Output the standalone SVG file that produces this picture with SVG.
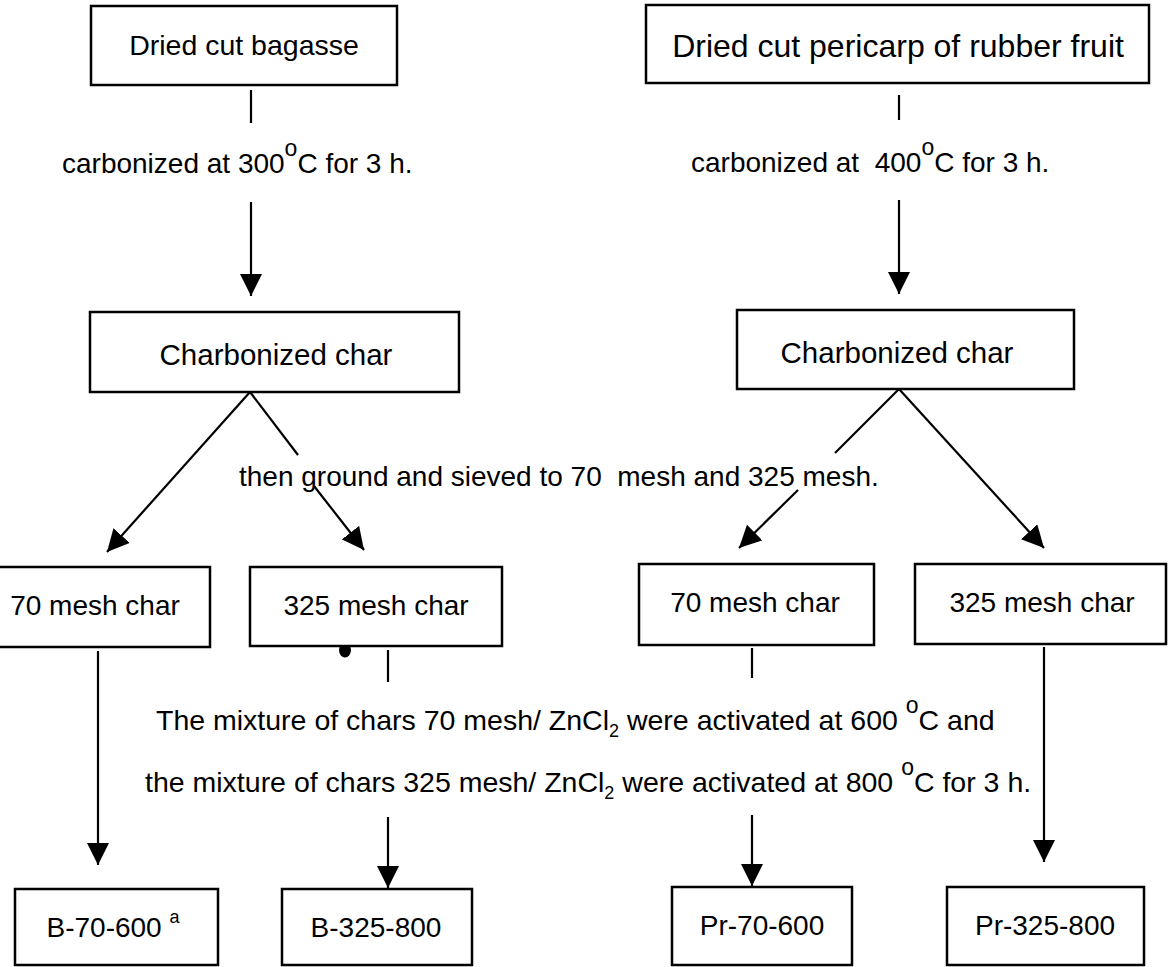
<svg xmlns="http://www.w3.org/2000/svg" width="1173" height="967" viewBox="0 0 1173 967">
<defs>
<style>
.box{fill:#fff;stroke:#000;stroke-width:2.5}
.t{font-family:"Liberation Sans",Arial,sans-serif;font-size:28px;fill:#000;text-anchor:middle}
.lbl{font-family:"Liberation Sans",Arial,sans-serif;font-size:28px;fill:#000;white-space:pre}
.mix{font-size:28.5px}
.ln{stroke:#000;stroke-width:2.2;fill:none}
.arr{marker-end:url(#ah)}
</style>
<marker id="ah" markerUnits="userSpaceOnUse" markerWidth="22" markerHeight="22" refX="22" refY="11" orient="auto" viewBox="0 0 22 22"><path d="M0,0 L22,11 L0,22 z" fill="#000"/></marker>
</defs>
<rect width="1173" height="967" fill="#fff"/>

<g id="connectors">
<line class="ln" x1="251" y1="90" x2="251" y2="123"/>
<line class="ln" x1="899" y1="95" x2="899" y2="120"/>
<line class="ln arr" x1="251" y1="202" x2="251" y2="296"/>
<line class="ln arr" x1="899" y1="200" x2="899" y2="294"/>
<line class="ln arr" x1="250" y1="392" x2="107" y2="552"/>
<line class="ln" x1="250" y1="392" x2="298" y2="455"/>
<line class="ln arr" x1="314" y1="486" x2="364" y2="550"/>
<line class="ln" x1="899" y1="389" x2="835" y2="453"/>
<line class="ln arr" x1="798" y1="490" x2="739" y2="548"/>
<line class="ln arr" x1="899" y1="389" x2="1044" y2="548"/>
<line class="ln arr" x1="98" y1="651" x2="98" y2="865"/>
<ellipse cx="345" cy="650" rx="6" ry="7.5" fill="#000"/>
<line class="ln" x1="388" y1="650" x2="388" y2="682"/>
<line class="ln" x1="752" y1="648" x2="752" y2="678"/>
<line class="ln arr" x1="1044" y1="647" x2="1044" y2="862"/>
<line class="ln arr" x1="388" y1="817" x2="388" y2="888"/>
<line class="ln arr" x1="752" y1="815" x2="752" y2="886"/>
</g>

<g id="labels">
<text class="lbl" x="62" y="173">carbonized at 300<tspan font-size="23" dy="-17">o</tspan><tspan dy="17">C for 3 h.</tspan></text>
<text class="lbl" x="691" y="172">carbonized at  400<tspan font-size="23" dy="-17">o</tspan><tspan dy="17">C for 3 h.</tspan></text>
<text class="lbl" x="239" y="486">then ground and sieved to 70  mesh and 325 mesh.</text>
<text class="lbl mix" x="156" y="730">The mixture of chars 70 mesh/ ZnCl<tspan font-size="18" dy="7">2</tspan><tspan dy="-7"> were activated at 600 </tspan><tspan font-size="23" dy="-17">o</tspan><tspan dy="17">C and</tspan></text>
<text class="lbl mix" x="145" y="792">the mixture of chars 325 mesh/ ZnCl<tspan font-size="18" dy="7">2</tspan><tspan dy="-7"> were activated at 800 </tspan><tspan font-size="23" dy="-17">o</tspan><tspan dy="17">C for 3 h.</tspan></text>
</g>

<g id="n-bagasse"><rect class="box" x="91" y="6" width="306" height="79"/><text class="t" x="244" y="55" style="font-size:28.5px">Dried cut bagasse</text></g>
<g id="n-pericarp"><rect class="box" x="646" y="5" width="503" height="78"/><text class="t" x="898" y="57" style="font-size:32px">Dried cut pericarp of rubber fruit</text></g>
<g id="n-char-b"><rect class="box" x="90" y="312" width="369" height="80"/><text class="t" x="276" y="365" style="font-size:29.5px">Charbonized char</text></g>
<g id="n-char-pr"><rect class="box" x="737" y="310" width="337" height="79"/><text class="t" x="897" y="363" style="font-size:29.5px">Charbonized char</text></g>
<g id="n-b70"><rect class="box" x="-3" y="567" width="213" height="80"/><text class="t" x="95" y="615">70 mesh char</text></g>
<g id="n-b325"><rect class="box" x="250" y="567" width="252" height="79"/><text class="t" x="376" y="615">325 mesh char</text></g>
<g id="n-pr70"><rect class="box" x="639" y="564" width="235" height="81"/><text class="t" x="755" y="612">70 mesh char</text></g>
<g id="n-pr325"><rect class="box" x="915" y="564" width="251" height="80"/><text class="t" x="1042" y="612">325 mesh char</text></g>
<g id="n-b70600"><rect class="box" x="15" y="889" width="203" height="76"/><text class="t" x="113" y="937">B-70-600 <tspan font-size="18" dy="-14">a</tspan></text></g>
<g id="n-b325800"><rect class="box" x="282" y="889" width="190" height="76"/><text class="t" x="376" y="937">B-325-800</text></g>
<g id="n-pr70600"><rect class="box" x="672" y="887" width="180" height="78"/><text class="t" x="762" y="935">Pr-70-600</text></g>
<g id="n-pr325800"><rect class="box" x="947" y="887" width="197" height="78"/><text class="t" x="1045" y="935">Pr-325-800</text></g>
</svg>
